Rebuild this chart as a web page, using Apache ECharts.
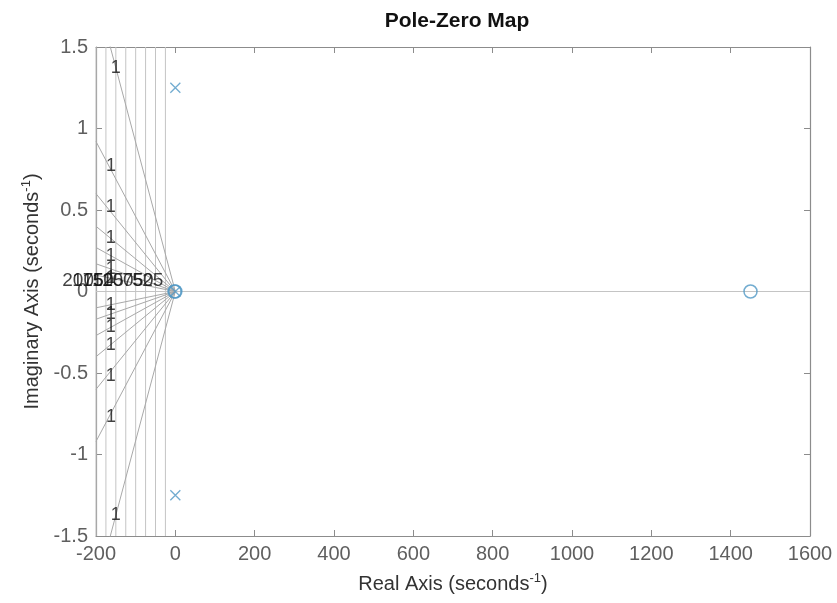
<!DOCTYPE html>
<html>
<head>
<meta charset="utf-8">
<script src="https://cdn.jsdelivr.net/npm/echarts@6/dist/echarts.min.js"></script>
<style>html,body{margin:0;padding:0;background:#fff}#c{width:837px;height:603px}</style>
</head>
<body>
<div id="c"></div>
<script>
// ---- data ----
const xMin = -200, xMax = 1600, xStep = 200;
const yMin = -1.5, yMax = 1.5, yStep = 0.5;
const wnValues = [25, 50, 75, 100, 125, 150, 175, 200];          // natural-frequency grid circles
const wnLabels = ['25', '50', '75', '100', '125', '150', '175', '200'];
const dampEdgeY = [1.83, 0.92, 0.6, 0.4, 0.27, 0.17, 0.1];        // imag value of each damping ray at x = -200
const dampLabelX = [-150, -162, -163, -163, -163, -163, -163];
const dampLabelY = [1.37, 0.77, 0.52, 0.33, 0.22, 0.14, 0.08];
const dampLabelText = ['1', '1', '1', '1', '1', '1', '1'];
const polesRe = [0, 0, 0];
const polesIm = [1.25, -1.25, 0];
const zerosRe = [1450, 0, -2];
const zerosIm = [0, 0, 0];

const FONT = 'Liberation Sans';
const markColor = '#4f97c4';
const gridColor = '#c4c4c4';
const axisColor = '#8c8c8c';

const series = [];
// wn circles (appear as vertical lines at this aspect ratio)
wnValues.forEach(w => {
  series.push({
    type: 'line', silent: true, symbol: 'none', clip: true,
    lineStyle: { color: gridColor, width: 1 },
    data: [[-w, yMin], [-w, yMax]], z: 1
  });
});
// real axis line
series.push({
  type: 'line', silent: true, symbol: 'none',
  lineStyle: { color: gridColor, width: 1 },
  data: [[xMin, 0], [xMax, 0]], z: 1
});
// damping rays
dampEdgeY.forEach(v => {
  [v, -v].forEach(s => {
    series.push({
      type: 'line', silent: true, symbol: 'none', clip: true,
      lineStyle: { color: '#a8a8a8', width: 1 },
      data: [[0, 0], [xMin, s]], z: 1
    });
  });
});
// damping labels
const dl = [];
dampLabelY.forEach((v, i) => {
  dl.push({ value: [dampLabelX[i], v], name: dampLabelText[i] });
  dl.push({ value: [dampLabelX[i], -v], name: dampLabelText[i] });
});
series.push({
  type: 'scatter', silent: true, symbolSize: 0, data: dl, z: 5,
  label: { show: true, position: 'inside', formatter: p => p.name, color: '#111', fontFamily: FONT, fontSize: 18 }
});
// wn labels
series.push({
  type: 'scatter', silent: true, symbolSize: 0, z: 5,
  data: wnValues.map((w, i) => ({ value: [-w, 0], name: wnLabels[i] })),
  label: { show: true, position: 'inside', offset: [-2, -11], align: 'right', verticalAlign: 'middle',
           formatter: p => p.name, color: '#111', fontFamily: FONT, fontSize: 19 }
});
// poles
series.push({
  type: 'scatter', symbol: 'path://M0,0L10,10M10,0L0,10', symbolSize: 10,
  itemStyle: { color: 'none', borderColor: markColor, borderWidth: 1.3 },
  data: polesRe.map((r, i) => [r, polesIm[i]]), z: 6
});
// zeros
series.push({
  type: 'scatter', symbol: 'circle', symbolSize: 13,
  itemStyle: { color: 'rgba(0,0,0,0)', borderColor: markColor, borderWidth: 1.5 },
  data: zerosRe.map((r, i) => [r, zerosIm[i]]), z: 6
});

const baseX = {
  type: 'value', min: xMin, max: xMax, interval: xStep,
  axisLine: { show: true, onZero: false, lineStyle: { color: axisColor, width: 1.2 } },
  axisTick: { show: true, inside: true, length: 6, lineStyle: { color: axisColor } },
  splitLine: { show: false }
};
const baseY = {
  type: 'value', min: yMin, max: yMax, interval: yStep,
  axisLine: { show: true, onZero: false, lineStyle: { color: axisColor, width: 1.2 } },
  axisTick: { show: true, inside: true, length: 6, lineStyle: { color: axisColor } },
  splitLine: { show: false }
};

const option = {
  animation: false,
  backgroundColor: '#fff',
  title: {
    text: 'Pole-Zero Map', left: 452, top: 6, textAlign: 'center',
    textStyle: { fontFamily: FONT, fontSize: 21, fontWeight: 'bold', color: '#111' }
  },
  grid: { left: 96, right: 27, top: 47, bottom: 67 },
  xAxis: [
    Object.assign({}, baseX, {
      position: 'bottom',
      axisLabel: { color: '#5f5f5f', fontFamily: FONT, fontSize: 20, margin: 8, formatter: v => String(v) },
      name: 'Real Axis (seconds{sup|-1})', nameLocation: 'middle', nameGap: 36,
      nameTextStyle: { color: '#333', fontFamily: FONT, fontSize: 20,
        rich: { sup: { fontSize: 13, verticalAlign: 'top', padding: [0, 0, 12, 0], color: '#333', fontFamily: FONT } } }
    }),
    Object.assign({}, baseX, { position: 'top', axisLabel: { show: false } })
  ],
  yAxis: [
    Object.assign({}, baseY, {
      position: 'left',
      axisLabel: { color: '#5f5f5f', fontFamily: FONT, fontSize: 20, margin: 8, formatter: v => String(v) },
      name: 'Imaginary Axis (seconds{sup|-1})', nameLocation: 'middle', nameGap: 44,
      nameTextStyle: { color: '#333', fontFamily: FONT, fontSize: 20,
        rich: { sup: { fontSize: 13, padding: [0, 0, 12, 0], color: '#333', fontFamily: FONT } } }
    }),
    Object.assign({}, baseY, { position: 'right', axisLabel: { show: false } })
  ],
  series: series
};
echarts.init(document.getElementById('c'), null, { renderer: 'canvas' }).setOption(option);
</script>
</body>
</html>
